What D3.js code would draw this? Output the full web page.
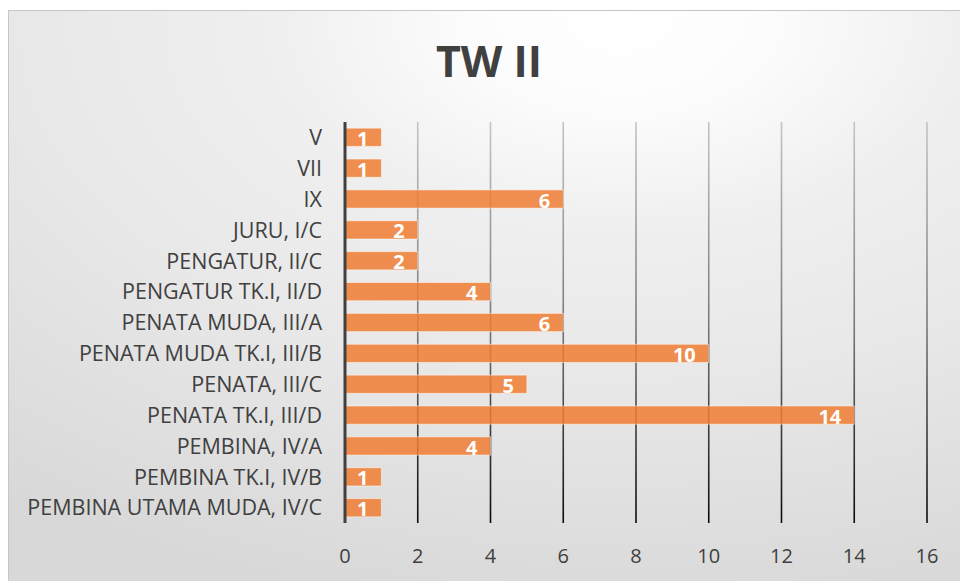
<!DOCTYPE html>
<html>
<head>
<meta charset="utf-8">
<script src="https://cdn.jsdelivr.net/npm/d3@7"></script>
<style>
  body { margin: 0; background: #fff; }
  svg { display: block; }
</style>
</head>
<body>
<script>
var categories = ["V", "VII", "IX", "JURU, I/C", "PENGATUR, II/C", "PENGATUR TK.I, II/D",
  "PENATA MUDA, III/A", "PENATA MUDA TK.I, III/B", "PENATA, III/C", "PENATA TK.I, III/D",
  "PEMBINA, IV/A", "PEMBINA TK.I, IV/B", "PEMBINA UTAMA MUDA, IV/C"];
var values = [1, 1, 6, 2, 2, 4, 6, 10, 5, 14, 4, 1, 1];
var xTicks = [0, 2, 4, 6, 8, 10, 12, 14, 16];
var title = "TW II";

var W = 960, H = 581;
var font = "'Open Sans', sans-serif";

var svg = d3.select("body").append("svg")
  .attr("width", W)
  .attr("height", H);

var defs = svg.append("defs");
var bg = defs.append("radialGradient")
  .attr("id", "bg")
  .attr("gradientUnits", "userSpaceOnUse")
  .attr("cx", 0).attr("cy", 0).attr("r", 1)
  .attr("gradientTransform", "translate(620,20) scale(1000,600)");
bg.append("stop").attr("offset", 0).attr("stop-color", "#ffffff");
bg.append("stop").attr("offset", 0.15).attr("stop-color", "#fcfcfc");
bg.append("stop").attr("offset", 0.35).attr("stop-color", "#efefef");
bg.append("stop").attr("offset", 0.6).attr("stop-color", "#e8e8e8");
bg.append("stop").attr("offset", 1).attr("stop-color", "#d8d8d8");

var plotTop = 122, plotBottom = 523;
var gridGrad = defs.append("linearGradient")
  .attr("id", "grid")
  .attr("gradientUnits", "userSpaceOnUse")
  .attr("x1", 0).attr("y1", plotTop).attr("x2", 0).attr("y2", plotBottom);
gridGrad.append("stop").attr("offset", 0).attr("stop-color", "#c4c4c4");
gridGrad.append("stop").attr("offset", 0.5).attr("stop-color", "#7a7a7a");
gridGrad.append("stop").attr("offset", 1).attr("stop-color", "#0a0a0a");

// chart frame
svg.append("rect")
  .attr("x", 8.5).attr("y", 10.5)
  .attr("width", W).attr("height", H)
  .attr("fill", "url(#bg)")
  .attr("stroke", "#c6c6c6")
  .attr("stroke-width", 1);

svg.append("text")
  .attr("x", 489).attr("y", 77)
  .attr("text-anchor", "middle")
  .style("font-family", font)
  .style("font-weight", "bold")
  .style("font-size", "43px")
  .style("fill", "#404040")
  .text(title);

var x = d3.scaleLinear().domain([0, 16]).range([345, 927]);
var y = d3.scaleBand().domain(categories).range([plotTop, plotBottom])
  .paddingInner(0.41).paddingOuter(0.2);

// gridlines
svg.selectAll(".grid").data(xTicks.slice(1)).enter().append("line")
  .attr("x1", function(d) { return x(d); })
  .attr("x2", function(d) { return x(d); })
  .attr("y1", plotTop).attr("y2", plotBottom)
  .attr("stroke", "url(#grid)")
  .attr("stroke-width", 1.6);

// bars
svg.selectAll(".bar").data(values).enter().append("rect")
  .attr("x", x(0))
  .attr("y", function(d, i) { return y(categories[i]); })
  .attr("width", function(d) { return x(d) - x(0); })
  .attr("height", y.bandwidth())
  .attr("fill", "#ee7d31")
  .attr("fill-opacity", 0.85)
  .attr("stroke", "#ffffff")
  .attr("stroke-opacity", 0.5)
  .attr("stroke-width", 1);

// data labels
svg.selectAll(".lbl").data(values).enter().append("text")
  .attr("x", function(d) { return x(d) - 13; })
  .attr("y", function(d, i) { return y(categories[i]) + y.bandwidth() - 0.5; })
  .attr("text-anchor", "end")
  .style("font-family", font)
  .style("font-weight", "bold")
  .style("font-size", "20px")
  .style("fill", "#ffffff")
  .text(function(d) { return d; });

// value axis line
svg.append("line")
  .attr("x1", x(0)).attr("x2", x(0))
  .attr("y1", plotTop).attr("y2", plotBottom)
  .attr("stroke", "#404040")
  .attr("stroke-width", 3);

// category labels
svg.selectAll(".cat").data(categories).enter().append("text")
  .attr("x", 322)
  .attr("y", function(d) { return y(d) + y.bandwidth() / 2; })
  .attr("dy", "0.36em")
  .attr("text-anchor", "end")
  .style("font-family", font)
  .style("font-size", "21.5px")
  .style("fill", "#404040")
  .text(function(d) { return d; });

// tick labels
svg.selectAll(".tick").data(xTicks).enter().append("text")
  .attr("x", function(d) { return x(d); })
  .attr("y", 563)
  .attr("text-anchor", "middle")
  .style("font-family", font)
  .style("font-size", "20px")
  .style("fill", "#404040")
  .text(function(d) { return d; });
</script>
</body>
</html>
